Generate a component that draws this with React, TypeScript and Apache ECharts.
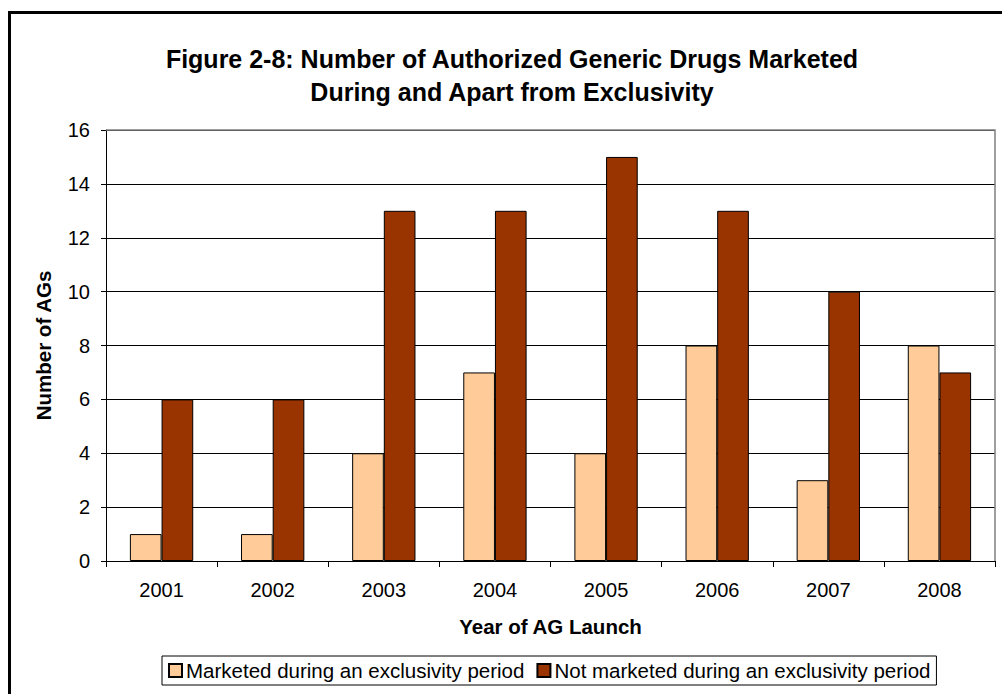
import React, { useEffect, useRef } from "react";
import * as echarts from "echarts";

const years = ["2001", "2002", "2003", "2004", "2005", "2006", "2007", "2008"];
const marketedDuring = [1, 1, 4, 7, 4, 8, 3, 8];
const notMarketedDuring = [6, 6, 13, 13, 15, 13, 10, 7];
const seriesNames = [
  "Marketed during an exclusivity period",
  "Not marketed during an exclusivity period",
];
const titleLines = [
  "Figure 2-8: Number of Authorized Generic Drugs Marketed",
  "During and Apart from Exclusivity",
];

const FONT = "Liberation Sans, Arial, Helvetica, sans-serif";

export default function App() {
  const ref = useRef<HTMLDivElement>(null);
  useEffect(() => {
    if (!ref.current) return;
    const chart = echarts.init(ref.current, null, { renderer: "svg" });
    const gridL = 106, gridR = 7, gridT = 130, gridB = 133;
    const W = 1002, H = 694;
    chart.setOption({
      animation: false,
      backgroundColor: "#ffffff",
      textStyle: { fontFamily: FONT },
      title: {
        text: titleLines.join("\n"),
        left: 507,
        top: 37,
        textAlign: "center",
        textStyle: {
          fontFamily: FONT,
          fontSize: 25,
          fontWeight: "bold",
          color: "#000",
          lineHeight: 33,
        },
      },
      legend: {
        left: 162,
        top: 656,
        itemWidth: 13,
        itemHeight: 13,
        itemGap: 12,
        padding: [4, 6, 4, 6],
        borderColor: "#000",
        borderWidth: 1,
        icon: "rect",
        textStyle: { fontFamily: FONT, fontSize: 20.5, color: "#000", padding: [0, 0, 0, -1] },
        data: seriesNames,
      },
      grid: { left: gridL, right: gridR, top: gridT, bottom: gridB },
      xAxis: {
        type: "category",
        data: years,
        name: "Year of AG Launch",
        nameLocation: "middle",
        nameGap: 55,
        nameTextStyle: { fontFamily: FONT, fontSize: 20.5, fontWeight: "bold", color: "#000" },
        axisLine: { lineStyle: { color: "#000", width: 1 } },
        axisTick: { show: true, length: 6, lineStyle: { color: "#000" } },
        axisLabel: { fontFamily: FONT, fontSize: 20, color: "#000", margin: 19 },
      },
      yAxis: {
        type: "value",
        min: 0,
        max: 16,
        interval: 2,
        name: "Number of AGs",
        nameLocation: "middle",
        nameGap: 52,
        nameTextStyle: { fontFamily: FONT, fontSize: 20.5, fontWeight: "bold", color: "#000" },
        axisLine: { show: true, lineStyle: { color: "#000", width: 1 } },
        axisTick: { show: true, length: 5, lineStyle: { color: "#000" } },
        axisLabel: { fontFamily: FONT, fontSize: 20, color: "#000", margin: 16 },
        splitLine: { show: true, lineStyle: { color: "#000", width: 1 } },
      },
      series: [
        {
          name: seriesNames[0],
          type: "bar",
          data: marketedDuring,
          barGap: "0%",
          barCategoryGap: "43%",
          itemStyle: { color: "#FFCC99", borderColor: "#000", borderWidth: 1 },
        },
        {
          name: seriesNames[1],
          type: "bar",
          data: notMarketedDuring,
          barGap: "0%",
          barCategoryGap: "43%",
          itemStyle: { color: "#993300", borderColor: "#000", borderWidth: 1 },
        },
      ],
      graphic: [
        {
          type: "rect",
          shape: { x: 9.5, y: 12.5, width: 2000, height: 2000 },
          style: { fill: "none", stroke: "#000", lineWidth: 3 },
          silent: true,
          z: 100,
        },
        {
          type: "polyline",
          shape: {
            points: [
              [gridL, gridT],
              [W - gridR, gridT],
              [W - gridR, H - gridB],
            ],
          },
          style: { fill: "none", stroke: "#808080", lineWidth: 1.5 },
          silent: true,
          z: 100,
        },
      ],
    });
    return () => chart.dispose();
  }, []);
  return (
    <div
      ref={ref}
      style={{ position: "absolute", left: 0, top: 0, width: 1002, height: 694 }}
    />
  );
}
